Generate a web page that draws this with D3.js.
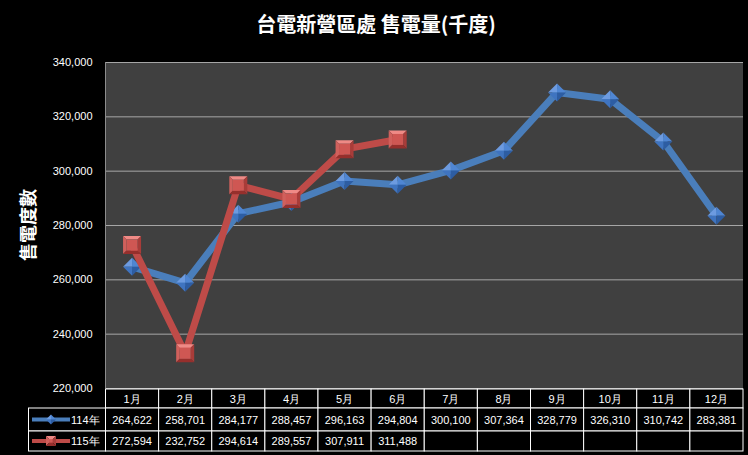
<!DOCTYPE html>
<html><head><meta charset="utf-8">
<script src="https://cdn.jsdelivr.net/npm/d3@7"></script>
<style>
html,body{margin:0;padding:0;background:#000;}
svg{display:block;}
</style></head>
<body>
<svg id="chart" width="748" height="455"></svg>
<script>
const months = ["1月","2月","3月","4月","5月","6月","7月","8月","9月","10月","11月","12月"];
const series114 = [264622,258701,284177,288457,296163,294804,300100,307364,328779,326310,310742,283381];
const series115 = [272594,232752,294614,289557,307911,311488];
const seriesNames = ["114年","115年"];
const yTicks = [220000,240000,260000,280000,300000,320000,340000];
const titleText = "台電新營區處 售電量(千度)";
const yTitle = "售電度數";

const svg = d3.select("#chart");
const W = 748, H = 455;
const L = 105.5, R = 743, T = 62, B = 388;
svg.append("rect").attr("width",W).attr("height",H).attr("fill","#000");

const x = d3.scaleBand().domain(months).range([L,R]).padding(0);
const y = d3.scaleLinear().domain([220000,340000]).range([B,T]);
const cx = m => x(m) + x.bandwidth()/2;

// plot area
svg.append("rect").attr("x",L).attr("y",T).attr("width",R-L).attr("height",B-T).attr("fill","#404040");

// gridlines
const grid = svg.append("g").attr("transform",`translate(${L},0)`)
  .call(d3.axisLeft(y).tickValues(yTicks).tickSize(-(R-L)).tickFormat(""));
grid.select(".domain").remove();
grid.selectAll(".tick line").attr("stroke","#a6a6a6").attr("stroke-width",1);

// left border of plot
svg.append("line").attr("x1",L).attr("x2",L).attr("y1",T).attr("y2",B).attr("stroke","#8c8c8c");

// y axis labels
const yAxis = svg.append("g").attr("transform",`translate(${L},0)`)
  .call(d3.axisLeft(y).tickValues(yTicks).tickSize(0).tickPadding(13).tickFormat(d3.format(",")));
yAxis.select(".domain").remove();
yAxis.selectAll("text").attr("fill","#fff").attr("font-family","Liberation Sans, Arial, sans-serif").attr("font-size","11px");

// title
svg.append("text").attr("x",376).attr("y",32).attr("text-anchor","middle")
  .attr("fill","#fff").attr("font-family","Noto Sans CJK TC, sans-serif").attr("font-weight","bold")
  .attr("font-size","20px").text(titleText);

// y title
svg.append("text").attr("transform","translate(35,225) rotate(-90)").attr("text-anchor","middle")
  .attr("fill","#fff").attr("font-family","Noto Sans CJK TC, sans-serif").attr("font-weight","bold")
  .attr("font-size","18px").text(yTitle);

const blue = "#4a7ebb", red = "#be4b48";

function diamond(g, px, py, s){
  const h = s/2;
  const gg = g.append("g").attr("transform",`translate(${px},${py})`);
  gg.append("path").attr("d",`M0,${-h}L${-h},0L0,0Z`).attr("fill","#6d9be0");
  gg.append("path").attr("d",`M0,${-h}L${h},0L0,0Z`).attr("fill","#4f86d3");
  gg.append("path").attr("d",`M${-h},0L0,${h}L0,0Z`).attr("fill","#3f74c0");
  gg.append("path").attr("d",`M${h},0L0,${h}L0,0Z`).attr("fill","#2d5da3");
}
function square(g, px, py, s){
  const h = s/2, i = s/2-3.5;
  const gg = g.append("g").attr("transform",`translate(${px},${py})`);
  gg.append("path").attr("d",`M${-h},${-h}L${h},${-h}L${i},${-i}L${-i},${-i}Z`).attr("fill","#ef8a86");
  gg.append("path").attr("d",`M${-h},${-h}L${-i},${-i}L${-i},${i}L${-h},${h}Z`).attr("fill","#d0605c");
  gg.append("path").attr("d",`M${h},${-h}L${h},${h}L${i},${i}L${i},${-i}Z`).attr("fill","#a83c39");
  gg.append("path").attr("d",`M${-h},${h}L${h},${h}L${i},${i}L${-i},${i}Z`).attr("fill","#962f2c");
  gg.append("rect").attr("x",-i).attr("y",-i).attr("width",2*i).attr("height",2*i).attr("fill","#cf5753");
}

const line = d3.line().x((d,i)=>cx(months[i])).y(d=>y(d));
const plot = svg.append("g");
plot.append("path").datum(series114).attr("d",line).attr("fill","none")
  .attr("stroke",blue).attr("stroke-width",7).attr("stroke-linejoin","round");
series114.forEach((v,i)=>diamond(plot,cx(months[i]),y(v),18));
plot.append("path").datum(series115).attr("d",line).attr("fill","none")
  .attr("stroke",red).attr("stroke-width",7).attr("stroke-linejoin","round");
series115.forEach((v,i)=>square(plot,cx(months[i]),y(v),18));

// data table
const rowY = [389, 408, 431, 451];
const tbl = svg.append("g");
const font = "Liberation Sans, Arial, sans-serif";
// header cells
months.forEach(m=>{
  tbl.append("rect").attr("x",x(m)).attr("y",rowY[0]).attr("width",x.bandwidth()).attr("height",rowY[1]-rowY[0])
    .attr("fill","#000").attr("stroke","#fff").attr("stroke-width",1);
  tbl.append("text").attr("x",cx(m)).attr("y",(rowY[0]+rowY[1])/2+4).attr("text-anchor","middle")
    .attr("fill","#fff").attr("font-family",font).attr("font-size","11px").text(m);
});
const allSeries = [series114, series115];
allSeries.forEach((s,r)=>{
  const y0 = rowY[r+1], y1 = rowY[r+2];
  tbl.append("rect").attr("x",28.5).attr("y",y0).attr("width",L-28.5).attr("height",y1-y0)
    .attr("fill","#000").attr("stroke","#fff");
  months.forEach((m,i)=>{
    tbl.append("rect").attr("x",x(m)).attr("y",y0).attr("width",x.bandwidth()).attr("height",y1-y0)
      .attr("fill","#000").attr("stroke","#fff");
    if(i < s.length){
      tbl.append("text").attr("x",cx(m)).attr("y",(y0+y1)/2+4).attr("text-anchor","middle")
        .attr("fill","#fff").attr("font-family",font).attr("font-size","11px").text(d3.format(",")(s[i]));
    }
  });
  const ly = (y0+y1)/2;
  tbl.append("line").attr("x1",32).attr("x2",70).attr("y1",ly).attr("y2",ly)
    .attr("stroke", r===0?blue:red).attr("stroke-width",4);
  if(r===0) diamond(tbl,51,ly,10); else square(tbl,51,ly,10);
  tbl.append("text").attr("x",71).attr("y",ly+4).attr("fill","#fff").attr("font-family",font)
    .attr("font-size","11px").text(seriesNames[r]);
});
</script>
</body></html>
